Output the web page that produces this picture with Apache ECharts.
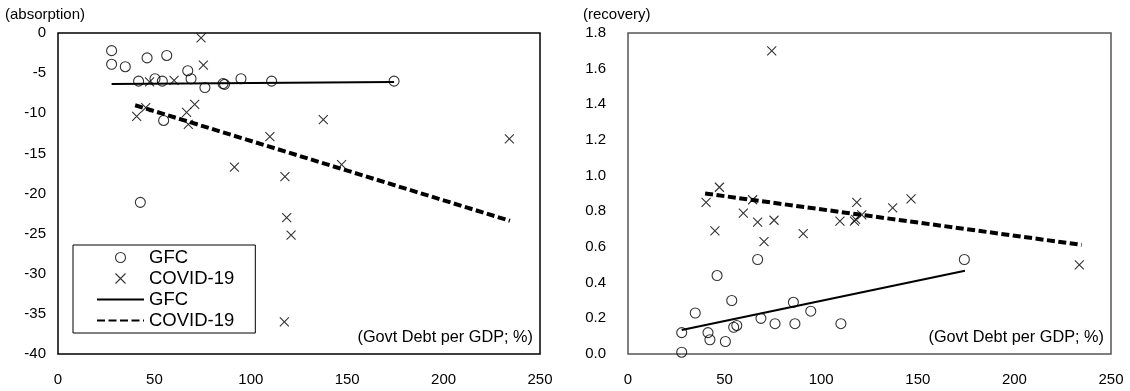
<!DOCTYPE html>
<html>
<head>
<meta charset="utf-8">
<script src="https://cdn.jsdelivr.net/npm/echarts@6/dist/echarts.min.js"></script>
<style>
html,body{margin:0;padding:0;background:#fff;}
#chart{width:1130px;height:391px;}
</style>
</head>
<body>
<div id="chart"></div>
<script>
// ---- data (x = Govt Debt per GDP, %) ----
var xTicks = [0, 50, 100, 150, 200, 250];
var absorptionTicks = [0, -5, -10, -15, -20, -25, -30, -35, -40];
var recoveryTicks = [0.0, 0.2, 0.4, 0.6, 0.8, 1.0, 1.2, 1.4, 1.6, 1.8];

var gfcAbsorption = [
  [27.8,-2.2],[27.8,-3.9],[34.9,-4.2],[46.2,-3.1],[56.4,-2.8],[41.8,-6.0],
  [50.3,-5.7],[54.1,-6.0],[67.3,-4.7],[69.0,-5.7],[76.2,-6.8],[85.6,-6.3],
  [86.4,-6.4],[94.9,-5.7],[110.8,-6.0],[54.8,-10.9],[174.3,-6.0],[42.7,-21.1]
];
var covidAbsorption = [
  [74.2,-0.6],[75.4,-4.0],[47.5,-6.1],[60.2,-5.9],[40.8,-10.4],[45.5,-9.3],
  [66.7,-9.9],[70.9,-8.9],[67.6,-11.4],[91.5,-16.7],[109.9,-12.9],[117.7,-17.9],
  [137.6,-10.8],[147.1,-16.4],[234.1,-13.2],[118.6,-23.0],[120.9,-25.2],[117.4,-36.0]
];
var gfcRecovery = [
  [27.8,0.12],[27.8,0.01],[34.8,0.23],[41.4,0.12],[42.4,0.08],[46.1,0.44],
  [50.4,0.07],[53.7,0.30],[54.7,0.15],[56.3,0.16],[67.1,0.53],[68.8,0.20],
  [76.1,0.17],[85.6,0.29],[86.4,0.17],[94.6,0.24],[110.2,0.17],[174.1,0.53]
];
var covidRecovery = [
  [74.4,1.70],[47.3,0.935],[40.4,0.85],[64.5,0.865],[45.0,0.69],[59.7,0.79],
  [67.1,0.74],[75.6,0.75],[70.4,0.63],[90.7,0.675],[109.7,0.745],[117.2,0.745],
  [117.8,0.755],[118.4,0.85],[121.0,0.78],[137.0,0.82],[146.5,0.87],[233.6,0.50]
];
var gfcAbsorptionTrend = [[27.8,-6.35],[174.3,-6.1]];
var covidAbsorptionTrend = [[40.0,-9.0],[234.4,-23.4]];
var gfcRecoveryTrend = [[27.8,0.135],[174.4,0.467]];
var covidRecoveryTrend = [[39.9,0.90],[234.8,0.612]];

// ---- chart ----
var FONT = "'Liberation Sans', Arial, sans-serif";
var crossPath = 'path://M0,0L10,10M10,0L0,10';
var chart = echarts.init(document.getElementById('chart'), null, {renderer: 'canvas'});

function xAxisCfg(gridIndex) {
  return {
    gridIndex: gridIndex, type: 'value', position: 'bottom',
    min: xTicks[0], max: xTicks[xTicks.length - 1], interval: 50,
    axisLine: {show: false, onZero: false}, axisTick: {show: false}, splitLine: {show: false},
    axisLabel: {color: '#000', fontSize: 15, fontFamily: FONT, margin: 18},
    name: '(Govt Debt per GDP; %)', nameLocation: 'end', nameGap: -7,
    nameTextStyle: {color: '#000', fontSize: 16.3, fontFamily: FONT, align: 'right',
      verticalAlign: 'bottom', padding: [0, 0, 8, 0]}
  };
}

function scatter(name, data, idx, cross) {
  return {
    name: name, type: 'scatter', xAxisIndex: idx, yAxisIndex: idx, data: data,
    symbol: cross ? crossPath : 'circle', symbolSize: cross ? 9 : 10,
    itemStyle: {color: 'rgba(0,0,0,0)', borderColor: '#000', borderWidth: 1.1},
    emphasis: {disabled: true}, z: 3
  };
}
function trend(name, data, idx, dashed) {
  return {
    name: name, type: 'line', xAxisIndex: idx, yAxisIndex: idx, data: data,
    symbol: 'none', silent: true,
    itemStyle: {color: 'rgba(0,0,0,0)', borderWidth: 0},
    lineStyle: {color: '#000', width: dashed ? 4 : 2, type: dashed ? [8, 3.5] : 'solid'},
    emphasis: {disabled: true}, z: 2
  };
}

chart.setOption({
  animation: false,
  backgroundColor: '#fff',
  title: [
    {text: '(absorption)', left: 0, top: 2, textStyle: {color: '#000', fontSize: 15, fontWeight: 'normal', fontFamily: FONT}},
    {text: '(recovery)', left: 578, top: 2, textStyle: {color: '#000', fontSize: 15, fontWeight: 'normal', fontFamily: FONT}}
  ],
  grid: [
    {left: 58, top: 33, width: 482, height: 321, show: true, borderColor: '#000', borderWidth: 1.5, backgroundColor: 'transparent'},
    {left: 628, top: 33, width: 483, height: 321, show: true, borderColor: '#555', borderWidth: 1.5, backgroundColor: 'transparent'}
  ],
  xAxis: [xAxisCfg(0), xAxisCfg(1)],
  yAxis: [
    {gridIndex: 0, type: 'value', min: absorptionTicks[absorptionTicks.length - 1], max: absorptionTicks[0], interval: 5,
      axisLine: {show: false}, axisTick: {show: false}, splitLine: {show: false},
      axisLabel: {color: '#000', fontSize: 15, fontFamily: FONT, margin: 12}},
    {gridIndex: 1, type: 'value', min: recoveryTicks[0], max: recoveryTicks[recoveryTicks.length - 1], interval: 0.2,
      axisLine: {show: false}, axisTick: {show: false}, splitLine: {show: false},
      axisLabel: {color: '#000', fontSize: 15, fontFamily: FONT, margin: 22,
        formatter: function (v) { return v.toFixed(1); }}}
  ],
  legend: {
    show: true, orient: 'vertical', left: 73, top: 245,
    padding: [3, 21, 3, 23], borderColor: '#000', borderWidth: 1, backgroundColor: '#fff',
    itemWidth: 47, itemHeight: 10, itemGap: 2, selectedMode: false,
    itemStyle: {borderWidth: 1.1},
    textStyle: {color: '#000', fontSize: 18.5, fontFamily: FONT},
    data: ['GFC', 'COVID-19', 'GFC trend', 'COVID-19 trend'],
    formatter: function (n) { return n.replace(' trend', ''); }
  },
  series: [
    scatter('GFC', gfcAbsorption, 0, false),
    scatter('COVID-19', covidAbsorption, 0, true),
    trend('GFC trend', gfcAbsorptionTrend, 0, false),
    trend('COVID-19 trend', covidAbsorptionTrend, 0, true),
    scatter('GFC', gfcRecovery, 1, false),
    scatter('COVID-19', covidRecovery, 1, true),
    trend('GFC trend', gfcRecoveryTrend, 1, false),
    trend('COVID-19 trend', covidRecoveryTrend, 1, true)
  ]
});
</script>
</body>
</html>
